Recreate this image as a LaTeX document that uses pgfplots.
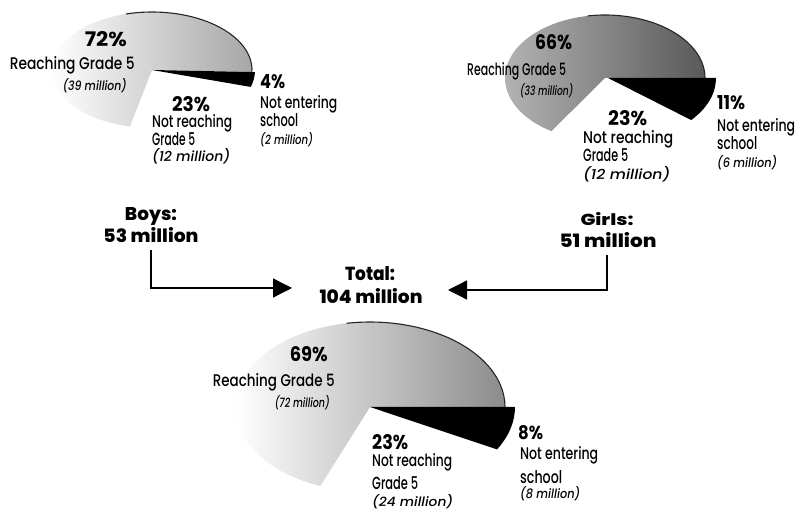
\documentclass[border=0pt]{standalone}
\usepackage{fontspec}
\setmainfont{Poppins}[UprightFont=* Medium,BoldFont=* Bold,ItalicFont=* Medium Italic]
\newfontfamily\heavy{Poppins ExtraBold}
\usepackage{pgfplots}
\pgfplotsset{compat=1.18}
\usetikzlibrary{arrows.meta}
\newcommand\lbl[3]{\resizebox{#1bp}{#2bp}{#3}}
% #1 style, #2 cx, #3 cy, #4 rx, #5 ry, #6 start angle, #7 end angle
\newcommand\slice[7]{\path[#1] (axis cs:#2,#3) -- (axis cs:{#2+#4*cos(#6)},{#3+#5*sin(#6)}) arc[start angle=#6,end angle=#7,x radius=#4,y radius=#5] -- cycle;}
\newcommand\rim[6]{\draw[black!85,line width=1.1bp] (axis cs:{#1+#3*cos(#5)},{#2+#4*sin(#5)}) arc[start angle=#5,end angle=#6,x radius=#3,y radius=#4];}
\begin{document}
\begin{tikzpicture}
\begin{axis}[width=799bp,height=516bp,scale only axis,
  xmin=0,xmax=799,ymin=0,ymax=516,hide axis,clip=false]
\fill[white] (axis cs:0,0) rectangle (axis cs:799,516);
% ---------------- Boys: 72 / 23 / 4 ----------------
\slice{left color=white,right color=black!35}{152}{446}{100}{58}{-2}{-2+72*3.6}
\rim{152}{446}{100}{58}{-2}{105}
\slice{fill=black}{152}{446}{103}{60}{-2}{-2-4*3.6}
% ---------------- Girls: 66 / 23 / 11 ----------------
\slice{left color=black!30,right color=black!65}{605}{438}{100}{63}{0}{66*3.6}
\rim{605}{438}{100}{63}{0}{100}
\slice{fill=black}{608}{438}{108}{66}{0}{-11*3.6}
% ---------------- Total: 69 / 23 / 8 ----------------
\slice{left color=white,right color=black!45}{370}{109}{135}{85}{0}{69*3.6}
\rim{370}{109}{135}{85}{0}{100}
\slice{fill=black}{370}{109}{145}{88}{0}{-8*3.6}
% ---------------- arrows ----------------
\addplot[black,line width=1.3bp,-{Triangle[length=19bp,width=19bp]}] coordinates {(151,266) (151,228) (292,228)};
\addplot[black,line width=1.3bp,-{Triangle[length=19bp,width=19bp]}] coordinates {(607,261) (607,226) (448,226)};
% ---------------- Boys labels ----------------
\node[anchor=base east,inner sep=0] at (axis cs:127,469) {\lbl{42}{15}{\bfseries 72\%}};
\node[anchor=base east,inner sep=0] at (axis cs:135,446) {\lbl{125}{13}{Reaching Grade 5}};
\node[anchor=base east,inner sep=0] at (axis cs:127,425) {\lbl{64}{12}{\itshape (39 million)}};
\node[anchor=base,inner sep=0] at (axis cs:191,404) {\lbl{38}{15}{\bfseries 23\%}};
\node[anchor=base west,inner sep=0] at (axis cs:152,388) {\lbl{80}{13}{Not reaching}};
\node[anchor=base west,inner sep=0] at (axis cs:152,370) {\lbl{43}{13}{Grade 5}};
\node[anchor=base west,inner sep=0] at (axis cs:152,354) {\lbl{78}{13}{\itshape (12 million)}};
\node[anchor=base west,inner sep=0] at (axis cs:260,427) {\lbl{25}{14}{\bfseries 4\%}};
\node[anchor=base west,inner sep=0] at (axis cs:260,407) {\lbl{77}{13}{Not entering}};
\node[anchor=base west,inner sep=0] at (axis cs:260,389) {\lbl{38}{13}{school}};
\node[anchor=base west,inner sep=0] at (axis cs:260,371) {\lbl{53}{12}{\itshape (2 million)}};
\node[anchor=base,inner sep=0] at (axis cs:151,295) {\lbl{52}{13}{\heavy Boys:}};
\node[anchor=base,inner sep=0] at (axis cs:151,273) {\lbl{95}{15}{\heavy 53 million}};
% ---------------- Girls labels ----------------
\node[anchor=base west,inner sep=0] at (axis cs:535,466) {\lbl{37}{15}{\bfseries 66\%}};
\node[anchor=base west,inner sep=0] at (axis cs:467,440) {\lbl{99}{13}{Reaching Grade 5}};
\node[anchor=base west,inner sep=0] at (axis cs:520,420) {\lbl{53}{12}{\itshape (33 million)}};
\node[anchor=base west,inner sep=0] at (axis cs:608,390) {\lbl{39}{15}{\bfseries 23\%}};
\node[anchor=base west,inner sep=0] at (axis cs:583,372) {\lbl{90}{13}{Not reaching}};
\node[anchor=base west,inner sep=0] at (axis cs:583,354) {\lbl{45}{13}{Grade 5}};
\node[anchor=base west,inner sep=0] at (axis cs:583,336) {\lbl{87}{13}{\itshape (12 million)}};
\node[anchor=base west,inner sep=0] at (axis cs:717,406) {\lbl{28}{14}{\bfseries 11\%}};
\node[anchor=base west,inner sep=0] at (axis cs:717,384) {\lbl{78}{13}{Not entering}};
\node[anchor=base west,inner sep=0] at (axis cs:717,366) {\lbl{40}{13}{school}};
\node[anchor=base west,inner sep=0] at (axis cs:717,348) {\lbl{60}{12}{\itshape (6 million)}};
\node[anchor=base,inner sep=0] at (axis cs:607,290) {\lbl{53}{13}{\heavy Girls:}};
\node[anchor=base,inner sep=0] at (axis cs:608,268) {\lbl{97}{15}{\heavy 51 million}};
% ---------------- Total labels ----------------
\node[anchor=base,inner sep=0] at (axis cs:370,235) {\lbl{50}{14}{\heavy Total:}};
\node[anchor=base,inner sep=0] at (axis cs:371,212) {\lbl{103}{15}{\heavy 104 million}};
\node[anchor=base east,inner sep=0] at (axis cs:328,154) {\lbl{38}{15}{\bfseries 69\%}};
\node[anchor=base east,inner sep=0] at (axis cs:335,129) {\lbl{122}{13}{Reaching Grade 5}};
\node[anchor=base east,inner sep=0] at (axis cs:330,108) {\lbl{55}{12}{\itshape (72 million)}};
\node[anchor=base west,inner sep=0] at (axis cs:372,66) {\lbl{36}{15}{\bfseries 23\%}};
\node[anchor=base west,inner sep=0] at (axis cs:372,49) {\lbl{80}{13}{Not reaching}};
\node[anchor=base west,inner sep=0] at (axis cs:372,27) {\lbl{46}{13}{Grade 5}};
\node[anchor=base west,inner sep=0] at (axis cs:372,10) {\lbl{81}{12}{\itshape (24 million)}};
\node[anchor=base west,inner sep=0] at (axis cs:518,76) {\lbl{25}{14}{\bfseries 8\%}};
\node[anchor=base west,inner sep=0] at (axis cs:520,56) {\lbl{78}{13}{Not entering}};
\node[anchor=base west,inner sep=0] at (axis cs:520,32) {\lbl{42}{13}{school}};
\node[anchor=base west,inner sep=0] at (axis cs:520,18) {\lbl{60}{12}{\itshape (8 million)}};
\end{axis}
\end{tikzpicture}
\end{document}
